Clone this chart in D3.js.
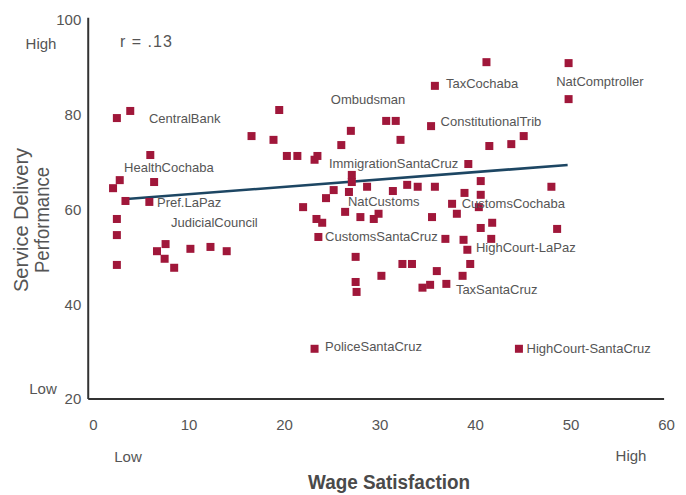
<!DOCTYPE html>
<html>
<head>
<meta charset="utf-8">
<script src="https://cdn.jsdelivr.net/npm/d3@7/dist/d3.min.js"></script>
<style>
  html, body { margin: 0; padding: 0; background: #fff; }
  svg { display: block; }
  text { font-family: "Liberation Sans", Arial, sans-serif; }
</style>
</head>
<body>
<svg id="chart" width="686" height="495"></svg>
<script>
// Agencies: wage satisfaction (x) vs service delivery performance (y)
const wageSatisfaction = [
  2.5, 3.9, 6.0, 2.8, 2.1, 6.4, 3.4, 5.9, 2.5, 2.5, 2.5, 7.6, 6.7, 7.5, 8.5, 10.2, 12.3, 14.0,
  16.6, 18.9, 19.5, 20.3, 21.4, 23.5, 23.2, 26.0, 27.0, 30.7, 31.7, 32.2, 35.4, 35.8, 41.2,
  49.8, 49.8, 41.5, 43.8, 45.1, 39.3, 27.1, 27.1, 40.6, 28.7, 25.2, 26.8, 24.4, 31.4, 32.9,
  34.0, 35.8, 38.9, 40.6, 48.0, 22.0, 37.6, 38.1, 40.4, 26.4, 28.0, 29.4, 29.9, 35.5, 23.4,
  24.0, 23.6, 41.8, 40.6, 48.6, 36.9, 38.8, 41.7, 39.2, 27.5, 32.4, 33.4, 39.5, 36.0, 30.2,
  38.7, 27.5, 27.6, 34.5, 35.3, 37.0, 23.2, 44.6
];
const servicePerformance = [
  79.3, 80.8, 71.5, 66.2, 64.5, 65.8, 61.8, 61.6, 58.0, 54.6, 48.3, 52.7, 51.2, 49.6, 47.7, 51.7, 52.1, 51.2,
  75.5, 74.7, 81.0, 71.3, 71.3, 71.3, 70.5, 73.6, 76.6, 78.7, 78.7, 74.7, 77.6, 86.1, 91.1,
  90.9, 83.3, 73.4, 73.8, 75.5, 69.6, 67.3, 65.8, 66.0, 64.8, 64.1, 63.7, 62.4, 63.9, 65.2,
  64.8, 64.8, 63.5, 63.1, 64.8, 60.5, 61.2, 59.1, 60.5, 59.5, 58.4, 58.0, 59.1, 58.4, 58.0,
  57.2, 54.2, 57.2, 56.1, 55.9, 53.8, 53.6, 53.8, 51.5, 50.0, 48.5, 48.5, 48.5, 47.0, 46.0,
  46.0, 44.7, 42.6, 43.5, 44.1, 44.3, 30.6, 30.6
];

// Labelled agencies (label anchor in data units: left edge, vertical centre)
const agencyNames = [
  "CentralBank", "HealthCochaba", "Pref.LaPaz", "JudicialCouncil", "Ombudsman", "TaxCochaba",
  "NatComptroller", "ConstitutionalTrib", "ImmigrationSantaCruz", "NatCustoms", "CustomsCochaba",
  "CustomsSantaCruz", "HighCourt-LaPaz", "TaxSantaCruz", "PoliceSantaCruz", "HighCourt-SantaCruz"
];
const agencyLabelX = [5.86, 3.25, 6.7, 8.17, 24.9, 36.96, 48.5, 36.4, 24.7, 26.7, 38.6, 24.3, 40.1, 38.0, 24.3, 45.4];
const agencyLabelY = [79.3, 68.8, 61.4, 57.2, 83.3, 86.7, 87.1, 78.5, 69.8, 61.6, 61.2, 54.4, 51.9, 43.2, 31.0, 30.6];

// Fitted regression line (r = .13)
const fitX = [3.5, 49.7];
const fitY = [62.2, 69.4];
const correlationText = "r = .13";

const xTicks = [0, 10, 20, 30, 40, 50, 60];
const yTicks = [20, 40, 60, 80, 100];
const xTitle = "Wage Satisfaction";
const yTitleLines = ["Service Delivery", "Performance"];

const svg = d3.select("#chart");
const x = d3.scaleLinear().domain([0, 60]).range([93, 666]);
const y = d3.scaleLinear().domain([20, 100]).range([399, 20]);

const textCol = "#555";
const pointCol = "#a0173a";

// axis lines
svg.append("line").attr("x1", x(-0.5)).attr("x2", x(-0.5)).attr("y1", y(100.5)).attr("y2", y(20))
  .attr("stroke", "#333").attr("stroke-width", 2);
svg.append("line").attr("x1", x(-0.5)).attr("x2", x(59.8)).attr("y1", y(20)).attr("y2", y(20))
  .attr("stroke", "#333").attr("stroke-width", 2);

// y axis tick labels
const yAxis = svg.append("g").attr("transform", `translate(${x(-0.5)},0)`)
  .call(d3.axisLeft(y).tickValues(yTicks).tickSize(0).tickPadding(7));
yAxis.select(".domain").remove();
yAxis.selectAll("text").attr("fill", textCol).style("font-size", "15px")
  .style("font-family", "'Liberation Sans', Arial, sans-serif");

// x axis tick labels
const xAxis = svg.append("g").attr("transform", `translate(0,${y(20)})`)
  .call(d3.axisBottom(x).tickValues(xTicks).tickSize(0).tickPadding(20));
xAxis.select(".domain").remove();
xAxis.selectAll("text").attr("fill", textCol).style("font-size", "15px")
  .style("font-family", "'Liberation Sans', Arial, sans-serif");

// High / Low anchors
const anchorStyle = s => s.attr("fill", textCol).style("font-size", "15px");
svg.append("text").text("High").attr("x", 41).attr("y", 44).attr("dy", "0.35em").attr("text-anchor", "middle").call(anchorStyle);
svg.append("text").text("Low").attr("x", 43).attr("y", 389).attr("dy", "0.35em").attr("text-anchor", "middle").call(anchorStyle);
svg.append("text").text("Low").attr("x", 128).attr("y", 457).attr("dy", "0.35em").attr("text-anchor", "middle").call(anchorStyle);
svg.append("text").text("High").attr("x", 631).attr("y", 456).attr("dy", "0.35em").attr("text-anchor", "middle").call(anchorStyle);

// titles
svg.append("text").text(xTitle).attr("x", 389).attr("y", 482).attr("dy", "0.35em").attr("text-anchor", "middle")
  .attr("textLength", 162).attr("lengthAdjust", "spacingAndGlyphs")
  .attr("fill", "#4a4a4a").style("font-size", "20px").style("font-weight", "bold");
const yt = svg.append("g").attr("transform", "translate(0,220) rotate(-90)");
const yLens = [144, 106];
yTitleLines.forEach((t, i) => {
  yt.append("text").text(t).attr("x", 0).attr("y", i === 0 ? 21 : 42).attr("dy", "0.35em")
    .attr("text-anchor", "middle").attr("textLength", yLens[i]).attr("lengthAdjust", "spacingAndGlyphs")
    .attr("fill", textCol).style("font-size", "20px");
});

// correlation
svg.append("text").text(correlationText).attr("x", 120).attr("y", 41).attr("dy", "0.35em")
  .attr("fill", textCol).style("font-size", "16px").style("letter-spacing", "1px");

// regression line
svg.append("line").attr("x1", x(fitX[0])).attr("y1", y(fitY[0])).attr("x2", x(fitX[1])).attr("y2", y(fitY[1]))
  .attr("stroke", "#1d4663").attr("stroke-width", 2.6);

// points
const pts = wageSatisfaction.map((v, i) => ({ x: v, y: servicePerformance[i] }));
const sz = 8;
svg.append("g").selectAll("rect").data(pts).join("rect")
  .attr("x", d => x(d.x) - sz / 2).attr("y", d => y(d.y) - sz / 2)
  .attr("width", sz).attr("height", sz).attr("fill", pointCol);

// labels
svg.append("g").selectAll("text").data(agencyNames).join("text")
  .text(d => d)
  .attr("x", (d, i) => x(agencyLabelX[i])).attr("y", (d, i) => y(agencyLabelY[i])).attr("dy", "0.35em")
  .attr("fill", textCol).style("font-size", "13px");
</script>
</body>
</html>
